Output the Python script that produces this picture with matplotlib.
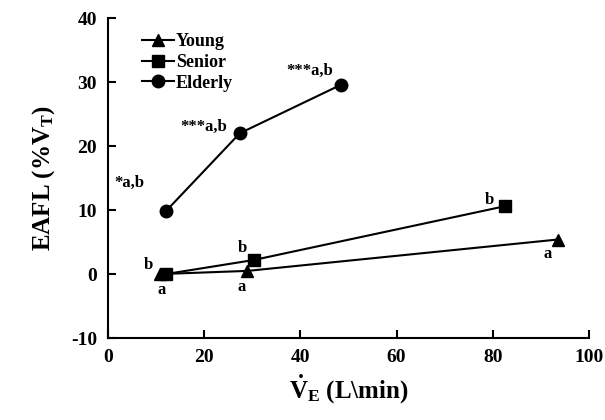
import matplotlib
matplotlib.use("Agg")
import matplotlib.pyplot as plt

young_x = [10.8, 29.0, 93.5]
young_y = [0.0, 0.5, 5.4]
senior_x = [12.0, 30.3, 82.5]
senior_y = [0.0, 2.2, 10.6]
elderly_x = [12.0, 27.4, 48.5]
elderly_y = [9.8, 22.0, 29.6]
x_ticks = [0, 20, 40, 60, 80, 100]
y_ticks = [-10, 0, 10, 20, 30, 40]

plt.rcParams['font.family'] = 'Liberation Serif'
plt.rcParams['font.weight'] = 'bold'
plt.rcParams['axes.unicode_minus'] = False
plt.rcParams['mathtext.fontset'] = 'custom'
plt.rcParams['mathtext.rm'] = 'Liberation Serif:bold'
plt.rcParams['mathtext.it'] = 'Liberation Serif:bold'
plt.rcParams['mathtext.bf'] = 'Liberation Serif:bold'

fig = plt.figure(figsize=(6.05, 4.2), dpi=100)
ax = fig.add_axes([0.1785, 0.195, 0.795, 0.762])

lw = 1.5
ax.plot(young_x, young_y, '-^', color='black', lw=lw, ms=9, label='Young')
ax.plot(senior_x, senior_y, '-s', color='black', lw=lw, ms=8, label='Senior')
ax.plot(elderly_x, elderly_y, '-o', color='black', lw=lw, ms=9, label='Elderly')

ax.set_xlim(0, 100)
ax.set_ylim(-10, 40)
ax.set_xticks(x_ticks)
ax.set_yticks(y_ticks)
for s in ['top', 'right']:
    ax.spines[s].set_visible(False)
for s in ['left', 'bottom']:
    ax.spines[s].set_linewidth(1.5)
ax.tick_params(direction='in', length=6, width=1.5, labelsize=14, pad=8)
for lab in ax.get_xticklabels() + ax.get_yticklabels():
    lab.set_fontweight('bold')

ax.set_ylabel('EAFL (%V$_\\mathregular{T}$)', fontsize=18, fontweight='bold', labelpad=10)
ax.set_xlabel('$\\dot{V}_E$ (L\\min)', fontsize=18, fontweight='bold', labelpad=4)

leg = ax.legend(loc='upper left', bbox_to_anchor=(0.055, 0.975), frameon=False,
                fontsize=13, handlelength=1.8, handletextpad=0.1, labelspacing=0.2,
                borderaxespad=0)
for t in leg.get_texts():
    t.set_fontweight('bold')

def ann(txt, x, y, dx, dy):
    ax.annotate(txt, (x, y), xytext=(dx, dy), textcoords='offset pixels',
                ha='center', va='center', fontsize=12, fontweight='bold')

ann('*a,b', elderly_x[0], elderly_y[0], -36, 28)
ann('***a,b', elderly_x[1], elderly_y[1], -36, 6)
ann('***a,b', elderly_x[2], elderly_y[2], -32, 14)
ann('b', senior_x[0], senior_y[0], -17, 9)
ann('a', young_x[0], young_y[0], 2, -16)
ann('b', senior_x[1], senior_y[1], -11, 12)
ann('a', young_x[1], young_y[1], -6, -16)
ann('b', senior_x[2], senior_y[2], -15, 6)
ann('a', young_x[2], young_y[2], -10, -14)

fig.savefig('out.png', dpi=100)
